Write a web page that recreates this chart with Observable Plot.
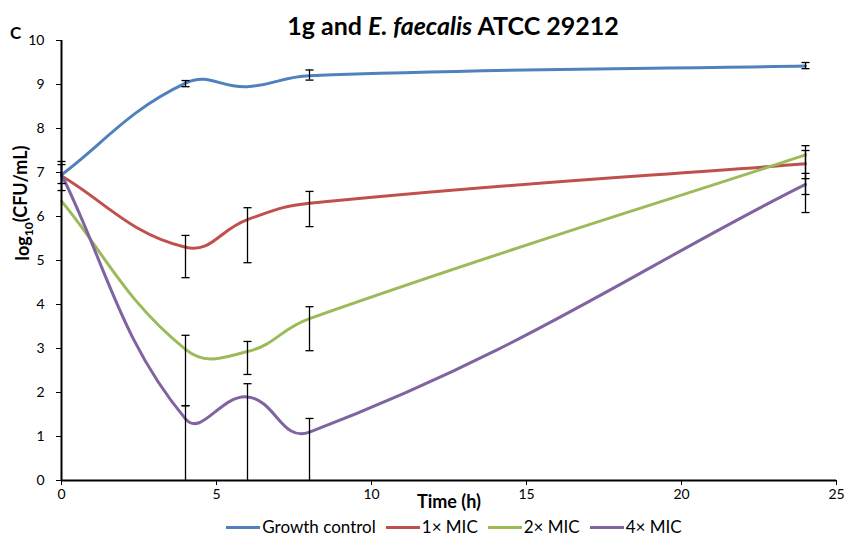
<!DOCTYPE html>
<html><head><meta charset="utf-8">
<script src="https://cdn.jsdelivr.net/npm/d3@7"></script>
<script src="https://cdn.jsdelivr.net/npm/@observablehq/plot@0.6"></script>
<style>
body{margin:0;background:#fff;font-family:Lato,"Open Sans",sans-serif;color:#000;}
#wrap{position:relative;width:848px;height:539px;overflow:hidden;background:#fff;}
#title{position:absolute;top:10px;left:58px;width:790px;text-align:center;font-weight:bold;font-size:25px;z-index:2;line-height:30px;}
#panel{position:absolute;top:22px;left:10px;font-weight:bold;font-size:17px;z-index:2;}
#chart{position:absolute;top:30px;left:0;z-index:1;}
#legend{position:absolute;top:516px;left:0;width:848px;padding-left:60px;box-sizing:border-box;display:flex;justify-content:center;align-items:center;font-size:17px;line-height:22px;z-index:2;}
.item{display:flex;align-items:center;margin:0 5px;}
.sw{width:34px;height:3px;margin-right:2px;}
</style></head>
<body><div id="wrap">
<div id="chart"></div>
<div id="title">1g and <i>E. faecalis</i> ATCC 29212</div>
<div id="panel">C</div>
<div id="legend"></div>
</div>
<script>
const times = [0, 4, 6, 8, 24];
const seriesNames = ["Growth control", "1× MIC", "2× MIC", "4× MIC"];
const colors = ["#4F81BD", "#C0504D", "#9BBB59", "#8064A2"];
const growth = [6.95, 9.03, 8.95, 9.2, 9.42];
const growthLo = [6.75, 8.95, 8.95, 9.1, 9.36];
const growthHi = [7.25, 9.09, 8.95, 9.33, 9.5];
const mic1 = [6.92, 5.3, 5.93, 6.3, 7.2];
const mic1Lo = [6.59, 4.61, 4.95, 5.77, 6.5];
const mic1Hi = [7.18, 5.57, 6.2, 6.57, 7.5];
const mic2 = [6.35, 2.98, 2.93, 3.68, 7.4];
const mic2Lo = [6.35, 1.7, 2.41, 2.95, 6.86];
const mic2Hi = [6.35, 3.3, 3.16, 3.95, 7.61];
const mic4 = [6.95, 1.4, 1.9, 1.1, 6.73];
const mic4Lo = [6.95, 0, 0, 0, 6.09];
const mic4Hi = [6.95, 1.7, 2.2, 1.41, 6.98];
const xTicks = [0, 5, 10, 15, 20, 25];
const yTicks = [0, 1, 2, 3, 4, 5, 6, 7, 8, 9, 10];

const vals = [growth, mic1, mic2, mic4];
const los = [growthLo, mic1Lo, mic2Lo, mic4Lo];
const his = [growthHi, mic1Hi, mic2Hi, mic4Hi];
const data = [];
seriesNames.forEach((s, k) => times.forEach((t, i) =>
  data.push({series: s, t, v: vals[k][i], lo: los[k][i], hi: his[k][i]})));
const bars = data.filter(d => d.hi > d.lo);
const caps = bars.flatMap(d => [{t: d.t, y: d.lo}, {t: d.t, y: d.hi}]).filter(d => d.y > 0);

// Spreadsheet-style smoothed line: Bezier with tangents scaled by segment lengths
function smoothCurve(context) {
  const k = 0.44;
  let pts;
  return {
    areaStart() {}, areaEnd() {},
    lineStart() { pts = []; },
    point(x, y) { pts.push([+x, +y]); },
    lineEnd() {
      const n = pts.length;
      if (!n) return;
      context.moveTo(pts[0][0], pts[0][1]);
      if (n === 1) return;
      const dist = (a, b) => Math.hypot(a[0] - b[0], a[1] - b[1]);
      const cOut = [], cIn = [];
      for (let i = 0; i < n; i++) {
        const p = pts[i], prev = pts[Math.max(0, i - 1)], next = pts[Math.min(n - 1, i + 1)];
        const tx = next[0] - prev[0], ty = next[1] - prev[1];
        const d1 = dist(p, prev), d2 = dist(p, next), s = (d1 + d2) || 1;
        const kk = (i === 0 || i === n - 1) ? 1 / 3 : k;
        cOut[i] = [p[0] + tx * d2 / s * kk, p[1] + ty * d2 / s * kk];
        cIn[i] = [p[0] - tx * d1 / s * kk, p[1] - ty * d1 / s * kk];
      }
      for (let i = 1; i < n; i++) {
        context.bezierCurveTo(cOut[i - 1][0], cOut[i - 1][1], cIn[i][0], cIn[i][1], pts[i][0], pts[i][1]);
      }
    }
  };
}

const plot = Plot.plot({
  width: 848, height: 490,
  marginLeft: 61, marginRight: 12, marginTop: 10, marginBottom: 40,
  style: {fontFamily: "Lato, 'Open Sans', sans-serif", fontSize: "14px", color: "#000", background: "transparent"},
  x: {domain: [0, 25]},
  y: {domain: [0, 10]},
  color: {domain: seriesNames, range: colors},
  marks: [
    Plot.axisY({ticks: yTicks, tickSize: 5, tickPadding: 12, label: null, tickFormat: d => String(d)}),
    Plot.axisX({ticks: xTicks, tickSize: 5, tickPadding: 4, label: null, tickFormat: d => String(d)}),
    Plot.line(data, {x: "t", y: "v", z: "series", stroke: "series", strokeWidth: 3, curve: smoothCurve}),
    Plot.ruleX(bars, {x: "t", y1: "lo", y2: "hi", stroke: "#000", strokeWidth: 1.3}),
    Plot.link(caps, {x1: d => d.t - 0.13, x2: d => d.t + 0.13, y1: "y", y2: "y", stroke: "#000", strokeWidth: 1.3}),
    Plot.ruleX([0], {stroke: "#000", strokeWidth: 2}),
    Plot.ruleY([0], {stroke: "#000", strokeWidth: 2}),
    Plot.text(["Time (h)"], {frameAnchor: "bottom", dy: 27, fontWeight: "bold", fontSize: 18}),
    Plot.text(["log10(CFU/mL)"], {frameAnchor: "left", dx: -38, rotate: -90, fontWeight: "bold", fontSize: 18})
  ]
});
document.getElementById("chart").appendChild(plot);

// subscript for log10
d3.select(plot).selectAll("text").filter(function(){ return this.textContent === "log10(CFU/mL)"; })
  .each(function(){
    const t = d3.select(this);
    t.text(null);
    t.append("tspan").text("log");
    t.append("tspan").attr("font-size", 12).attr("dy", "0.3em").text("10");
    t.append("tspan").attr("dy", "-0.3em").text("(CFU/mL)");
  });

const legend = d3.select("#legend");
seriesNames.forEach((s, k) => {
  const it = legend.append("div").attr("class", "item");
  it.append("div").attr("class", "sw").style("background", colors[k]);
  it.append("span").text(s);
});
</script>
</body></html>
